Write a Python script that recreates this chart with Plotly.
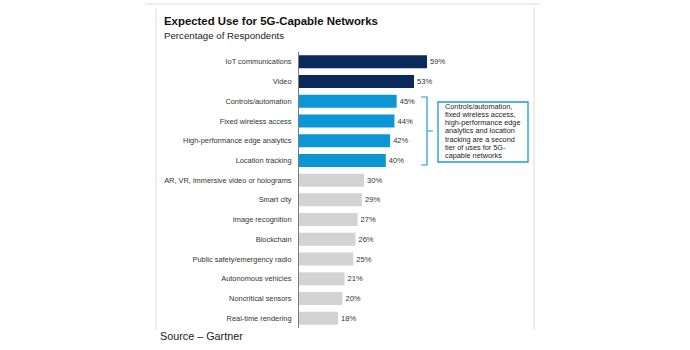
import plotly.graph_objects as go

categories = [
    "IoT communications", "Video", "Controls/automation", "Fixed wireless access",
    "High-performance edge analytics", "Location tracking",
    "AR, VR, immersive video or holograms", "Smart city", "Image recognition",
    "Blockchain", "Public safety/emergency radio", "Autonomous vehicles",
    "Noncritical sensors", "Real-time rendering",
]
values = [59, 53, 45, 44, 42, 40, 30, 29, 27, 26, 25, 21, 20, 18]
tiers = ["top", "top", "second", "second", "second", "second",
         "other", "other", "other", "other", "other", "other", "other", "other"]
tier_colors = {"top": "#0b2a5b", "second": "#0d96d6", "other": "#d3d3d3"}
note_lines = ["Controls/automation,", "fixed wireless access,", "high-performance edge",
              "analytics and location", "tracking are a second", "tier of uses for 5G-",
              "capable networks"]

W, H = 690, 350
L, R, T, B = 299, 534, 52, 328  # plot area in pixels
FONT = "Liberation Sans, Arial"


def px(x):
    return (x - L) / (R - L)


def py(y):
    return (B - y) / (B - T)


fig = go.Figure(go.Bar(
    x=values, y=categories, orientation="h",
    marker=dict(color=[tier_colors[t] for t in tiers], line=dict(width=0)),
    text=[f"{v}%" for v in values], textposition="outside",
    textfont=dict(family=FONT, size=7.6, color="#333333"),
    cliponaxis=False, width=0.66,
))

fig.update_layout(
    width=W, height=H,
    margin=dict(l=L, r=W - R, t=T, b=H - B, pad=0),
    paper_bgcolor="white", plot_bgcolor="white",
    showlegend=False,
    font=dict(family=FONT, color="#333333"),
    xaxis=dict(range=[0, (R - L) / 2.17], visible=False, fixedrange=True),
    yaxis=dict(range=[13.5, -0.5], type="category", showline=True,
               linecolor="#7a7a7a", linewidth=1, showgrid=False, ticks="",
               ticklabelstandoff=5,
               tickfont=dict(family=FONT, size=7.4, color="#333333")),
)

line_col = "#dcdcdc"
blue = "#1a9ad6"
shapes = [
    dict(type="line", xref="paper", yref="paper", x0=px(145), x1=px(540), y0=py(4), y1=py(4),
         line=dict(color=line_col, width=1)),
    dict(type="line", xref="paper", yref="paper", x0=px(156), x1=px(156), y0=py(8), y1=py(330),
         line=dict(color=line_col, width=1)),
    dict(type="line", xref="paper", yref="paper", x0=px(534), x1=px(534), y0=py(7), y1=py(330),
         line=dict(color=line_col, width=1)),
    # bracket
    dict(type="path", xref="paper", yref="paper",
         path=f"M {px(421)} {py(97)} L {px(427)} {py(97)} L {px(427)} {py(165)} L {px(421)} {py(165)} "
              f"M {px(427)} {py(131)} L {px(433)} {py(131)}",
         line=dict(color=blue, width=1.2)),
    # box
    dict(type="rect", xref="paper", yref="paper", x0=px(438), x1=px(528), y0=py(102), y1=py(162),
         line=dict(color=blue, width=1.3), fillcolor="white"),
]

annotations = [
    dict(text="<b>Expected Use for 5G-Capable Networks</b>", xref="paper", yref="paper",
         x=px(162), y=py(21), xanchor="left", yanchor="middle", showarrow=False,
         font=dict(family=FONT, size=11.4, color="#111111")),
    dict(text="Percentage of Respondents", xref="paper", yref="paper",
         x=px(162), y=py(36), xanchor="left", yanchor="middle", showarrow=False,
         font=dict(family=FONT, size=9.7, color="#222222")),
    dict(text="Source – Gartner", xref="paper", yref="paper",
         x=px(158), y=py(336), xanchor="left", yanchor="middle", showarrow=False,
         font=dict(family=FONT, size=10.8, color="#222222")),
]
for i, line in enumerate(note_lines):
    annotations.append(dict(
        text=line, xref="paper", yref="paper", x=px(443), y=py(106 + i * 8.33),
        xanchor="left", yanchor="middle", showarrow=False,
        font=dict(family=FONT, size=7.3, color="#222222")))

fig.update_layout(shapes=shapes, annotations=annotations)
fig.write_html("out.html")
